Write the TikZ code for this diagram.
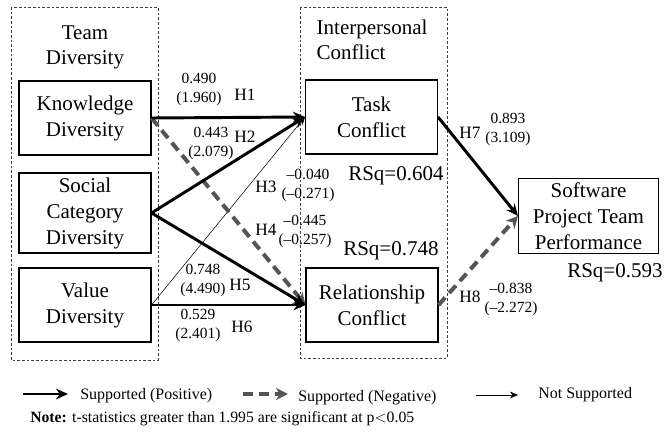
\documentclass[tikz,border=0pt]{standalone}
\usepackage{fontspec}
\setmainfont{Liberation Serif}
\usetikzlibrary{positioning,arrows.meta}
\definecolor{neggray}{RGB}{85,85,85}
\tikzstyle{construct} = [rectangle, draw=black, line width=0.8pt, minimum width=99pt, minimum height=55.5pt, text centered, align=center, font=\fontsize{15.75}{19.5}\selectfont]
\tikzstyle{group} = [draw=black!75, dash pattern=on 2pt off 1.5pt, line width=0.7pt]
\tikzstyle{title} = [align=center, font=\fontsize{15.75}{19}\selectfont]
\tikzstyle{posarrow} = [line width=2.2pt, -{Stealth[length=9pt,width=8pt]}]
\tikzstyle{negarrow} = [line width=3pt, neggray, dash pattern=on 7.5pt off 4.5pt, -{Stealth[length=9pt,width=9pt]}]
\tikzstyle{nsarrow} = [line width=0.4pt, -{Stealth[length=6pt,width=5pt]}]
\tikzstyle{coef} = [align=center, inner sep=0pt, font=\fontsize{11.6}{14.25}\selectfont]
\tikzstyle{hyp} = [inner sep=0pt, font=\fontsize{13}{15}\selectfont]
\tikzstyle{legend} = [anchor=base west, inner sep=0pt, font=\fontsize{12}{14}\selectfont]
\begin{document}
\begin{tikzpicture}[x=0.75pt, y=-0.75pt]
\useasboundingbox (0,0) rectangle (664,434);
% groups
\draw[group] (11,7) rectangle (158,360);
\draw[group] (300,7) rectangle (447,358);
\node[title] (teamdiv) at (85,47.5) {Team\\Diversity};
\node[title, align=left, anchor=west] (interconf) at (312,39.5) {Interpersonal\\Conflict};
% constructs
\node[construct] (know) at (85,118) {Knowledge\\Diversity};
\node[construct] (social) at (85,213) {Social\\Category\\Diversity};
\node[construct] (value) at (85,305) {Value\\Diversity};
\node[construct] (task) at (371.5,117) {Task\\Conflict};
\node[construct] (rel) at (372,305) {Relationship\\Conflict};
\node[construct, minimum width=105pt, minimum height=56pt] (perf) at (588.5,216) {Software\\Project Team\\Performance};
\node[title, anchor=west, inner sep=0pt] (rsqtask) at (348,176) {RSq=0.604};
\node[title, anchor=west, inner sep=0pt] (rsqrel) at (343,251) {RSq=0.748};
\node[title, anchor=west, inner sep=0pt] (rsqperf) at (567,273) {RSq=0.593};
% paths
\draw[nsarrow] (value.east) -- (task.west);
\draw[negarrow] (know.east) -- (rel.west);
\draw[posarrow] (know.east) -- (task.west);
\draw[posarrow] (social.east) -- (task.west);
\draw[posarrow] (social.east) -- (rel.west);
\draw[posarrow] (value.east) -- (rel.west);
\draw[posarrow] (task.east) -- (perf.west);
\draw[negarrow] (rel.east) -- (perf.west);
% labels
\node[coef] (c1) at (199,89.5) {0.490\\(1.960)};
\node[hyp] (h1) at (245,95) {H1};
\node[coef] (c2) at (211,143.5) {0.443\\(2.079)};
\node[hyp] (h2) at (245,137) {H2};
\node[hyp] (h3) at (266,187) {H3};
\node[coef] (c3) at (308,186) {–0.040\\(–0.271)};
\node[hyp] (h4) at (266,230) {H4};
\node[coef] (c4) at (305,232) {–0.445\\(–0.257)};
\node[coef] (c5) at (203,280.5) {0.748\\(4.490)};
\node[hyp] (h5) at (240,285) {H5};
\node[coef] (c6) at (198,326) {0.529\\(2.401)};
\node[hyp] (h6) at (242,327) {H6};
\node[hyp] (h7) at (470,133) {H7};
\node[coef] (c7) at (508,129.5) {0.893\\(3.109)};
\node[hyp] (h8) at (470,297) {H8};
\node[coef] (c8) at (511,299.5) {–0.838\\(–2.272)};
% legend
\coordinate (lp1) at (23,394);
\coordinate (lp2) at (68,394);
\coordinate (ln1) at (243,394);
\coordinate (ln2) at (288,394);
\coordinate (ls1) at (476,395);
\coordinate (ls2) at (518,395);
\draw[posarrow] (lp1) -- (lp2);
\draw[negarrow] (ln1) -- (ln2);
\draw[nsarrow] (ls1) -- (ls2);
\node[legend] (lgpos) at (80,400) {Supported (Positive)};
\node[legend] (lgneg) at (298,402) {Supported (Negative)};
\node[legend] (lgns) at (538,399) {Not Supported};
\node[legend, font=\fontsize{11.8}{13}\selectfont] (note) at (30,422) {\textbf{Note:} t-statistics greater than 1.995 are significant at p$<$0.05};
\end{tikzpicture}
\end{document}
